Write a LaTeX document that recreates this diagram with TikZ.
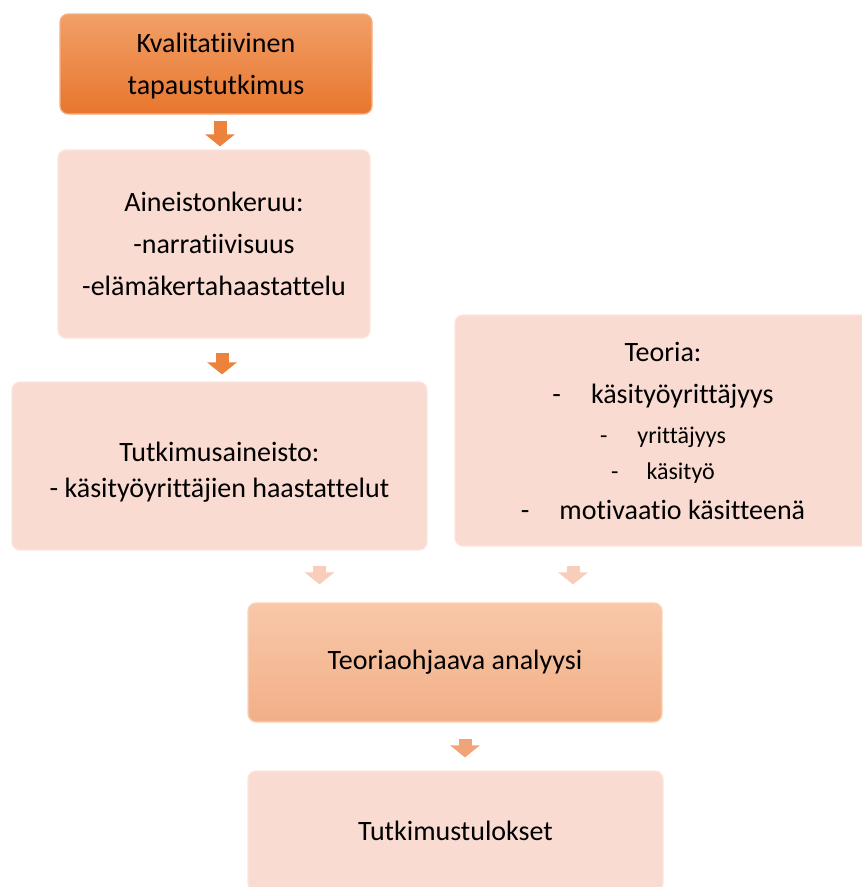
\documentclass[tikz,border=0pt]{standalone}
\usepackage{fontspec}
\setmainfont{Carlito}[Ligatures=NoCommon]
\usetikzlibrary{arrows.meta}
\definecolor{oranssi}{HTML}{EC823B}
\definecolor{oranssiy}{HTML}{F29F68}
\definecolor{oranssia}{HTML}{E8762D}
\definecolor{roosa}{HTML}{F9DBD1}
\definecolor{roosareuna}{HTML}{FBE6DE}
\definecolor{persikkay}{HTML}{F8C8A9}
\definecolor{persikkaa}{HTML}{F2AF87}
\definecolor{nuolivaal}{HTML}{F8CDBB}
\definecolor{nuolipers}{HTML}{F1A477}
\begin{document}
\begin{tikzpicture}[x=1pt,y=1pt,
	ruutu/.style={rounded corners=8pt,line width=1.2pt,align=center,inner sep=0pt,
		font=\fontsize{28}{42}\selectfont},
	vaalea/.style={ruutu,draw=roosareuna,fill=roosa},
	nuoli/.style={draw=#1,line width=13pt,-{Triangle[width=29pt,length=12pt]}}]
	\useasboundingbox (0,0) rectangle (862,-887);
	\fill[white] (0,0) rectangle (862,-887);
	\clip (0,0) rectangle (862,-887);
	% laatikot
	\node[ruutu,draw=oranssiy!80!white,top color=oranssiy,bottom color=oranssia,
		minimum width=312,minimum height=100] (kval) at (216,-64)
		{\rule{0pt}{24pt}Kvalitatiivinen\\tapaustutkimus};
	\node[vaalea,minimum width=312,minimum height=188] (keruu) at (214,-244)
		{Aineistonkeruu:\\-narratiivisuus\\-elämäkertahaastattelu};
	\node[vaalea,minimum width=415,minimum height=168] (aineisto) at (219.5,-466)
		{\rule{0pt}{31pt}Tutkimusaineisto:\\[-6pt]- käsityöyrittäjien haastattelut};
	\node[vaalea,minimum width=416,minimum height=231] (teoria) at (663,-430.5)
		{Teoria:\\-\hspace{30pt}käsityöyrittäjyys\\[-2pt]
		{\fontsize{24}{30}\selectfont -\hspace{30pt}yrittäjyys}\\[-6pt]
		{\fontsize{24}{30}\selectfont -\hspace{28pt}käsityö}\\[-2pt]
		-\hspace{30pt}motivaatio käsitteenä};
	\node[ruutu,draw=persikkay!80!white,top color=persikkay,bottom color=persikkaa,
		minimum width=414,minimum height=119] (analyysi) at (455,-662.5)
		{Teoriaohjaava analyysi};
	\node[vaalea,minimum width=415,minimum height=120] (tulos) at (455.5,-831)
		{Tutkimustulokset};
	% nuolet
	\draw[nuoli=oranssi,shorten <=6pt,shorten >=3pt]
		([xshift=4pt]kval.south) -- ([xshift=4pt]kval.south |- keruu.north);
	\draw[nuoli=oranssi,shorten <=14pt,shorten >=7pt]
		([xshift=8pt]keruu.south) -- ([xshift=8pt]keruu.south |- aineisto.north);
	\draw[nuoli=nuolivaal,shorten <=15pt,shorten >=18pt]
		([xshift=100pt]aineisto.south) -- ([xshift=100pt]aineisto.south |- analyysi.north);
	\draw[nuoli=nuolivaal,shorten <=19pt,shorten >=18pt]
		([xshift=-90pt]teoria.south) -- ([xshift=-90pt]teoria.south |- analyysi.north);
	\draw[nuoli=nuolipers,shorten <=16pt,shorten >=13pt]
		([xshift=10pt]analyysi.south) -- ([xshift=10pt]analyysi.south |- tulos.north);
\end{tikzpicture}
\end{document}
